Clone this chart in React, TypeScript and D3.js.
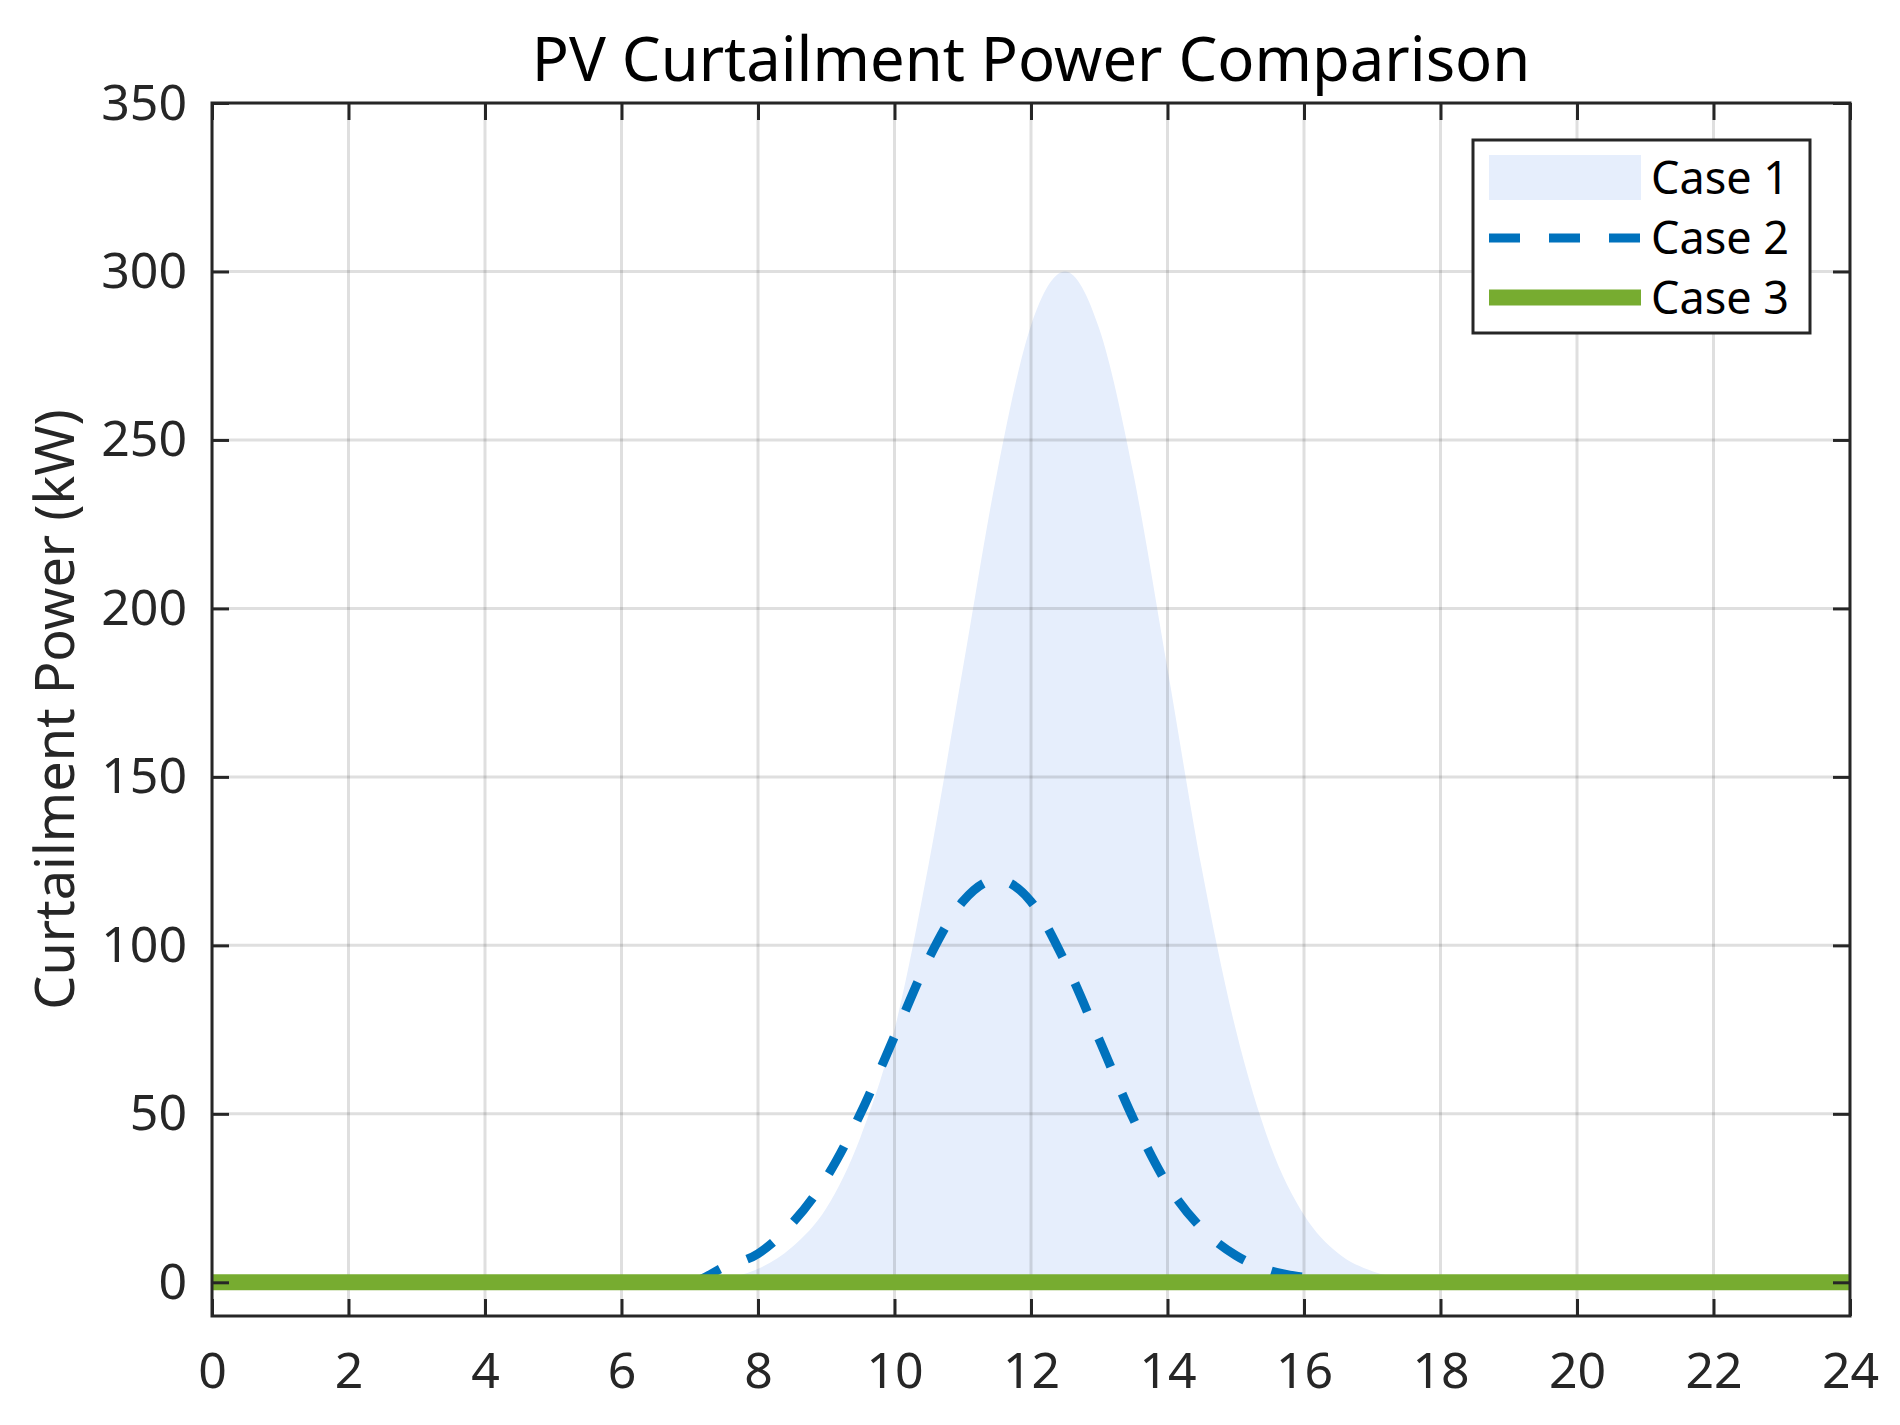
import React, { useRef, useEffect } from 'react';
import * as d3 from 'd3';

// half-hour samples over one day
const hours = [
  0, 0.5, 1, 1.5, 2, 2.5, 3, 3.5, 4, 4.5, 5, 5.5, 6, 6.5, 7, 7.5, 8, 8.5, 9, 9.5, 10, 10.5, 11, 11.5,
  12, 12.5, 13, 13.5, 14, 14.5, 15, 15.5, 16, 16.5, 17, 17.5, 18, 18.5, 19, 19.5, 20, 20.5, 21, 21.5,
  22, 22.5, 23, 23.5, 24,
];

// Case 1: curtailment without control (kW)
const case1 = [
  0, 0, 0, 0, 0, 0, 0, 0, 0, 0, 0, 0, 0, 0.1, 0.4, 1.2, 4, 10.5, 22, 43, 75, 124, 182, 240,
  284, 300, 283, 240, 182, 123, 75, 41, 20, 8.6, 3.3, 1.2, 0.4, 0.1, 0, 0, 0, 0, 0, 0,
  0, 0, 0, 0, 0,
];

// Case 2 (kW)
const case2 = [
  0, 0, 0, 0, 0, 0, 0, 0, 0, 0, 0, 0, 0, 0, 0, 4.5, 8.5, 17.5, 31, 50, 73, 96, 113, 119.5,
  113, 95, 72, 48.5, 29, 16, 8, 3.5, 1.5, 0.3, 0, 0, 0, 0, 0, 0, 0, 0, 0, 0,
  0, 0, 0, 0, 0,
];

// Case 3 (kW)
const case3 = hours.map(() => 0);

const xTicks = [0, 2, 4, 6, 8, 10, 12, 14, 16, 18, 20, 22, 24];
const yTicks = [0, 50, 100, 150, 200, 250, 300, 350];
const legendLabels = ['Case 1', 'Case 2', 'Case 3'];

const FONT = '"Noto Sans", "Open Sans", sans-serif';
const AXIS_COLOR = '#262626';
const FILL_COLOR = '#e6eefc';
const BLUE = '#0072bd';
const GREEN = '#77ac30';

const App: React.FC = () => {
  const svgRef = useRef<SVGSVGElement | null>(null);

  useEffect(() => {
    if (!svgRef.current) return;
    const W = 1900;
    const H = 1425;
    const margin = { top: 103, right: 50, bottom: 109, left: 212 };
    const width = W - margin.left - margin.right;
    const height = H - margin.top - margin.bottom;

    const root = d3.select(svgRef.current);
    root.selectAll('*').remove();
    root.attr('width', W).attr('height', H);

    root.append('rect').attr('width', W).attr('height', H).attr('fill', '#fff');

    const svg = root.append('g').attr('transform', `translate(${margin.left},${margin.top})`);

    const x = d3.scaleLinear().domain([0, 24]).range([0, width]);
    const y = d3.scaleLinear().domain([-10, 350]).range([height, 0]);

    root
      .append('defs')
      .append('clipPath')
      .attr('id', 'plot-clip')
      .append('rect')
      .attr('width', width)
      .attr('height', height);

    const plot = svg.append('g').attr('clip-path', 'url(#plot-clip)');

    // Case 1 area
    const area = d3
      .area<number>()
      .x((_, i) => x(hours[i]))
      .y0(y(0))
      .y1(d => y(d))
      .curve(d3.curveMonotoneX);
    plot.append('path').datum(case1).attr('d', area).attr('fill', FILL_COLOR);

    // grid on top of the patch
    const grid = plot.append('g').attr('stroke', AXIS_COLOR).attr('stroke-opacity', 0.15).attr('stroke-width', 3);
    grid
      .selectAll('line.vx')
      .data(xTicks)
      .enter()
      .append('line')
      .attr('x1', d => x(d))
      .attr('x2', d => x(d))
      .attr('y1', 0)
      .attr('y2', height);
    grid
      .selectAll('line.hy')
      .data(yTicks)
      .enter()
      .append('line')
      .attr('x1', 0)
      .attr('x2', width)
      .attr('y1', d => y(d))
      .attr('y2', d => y(d));

    const line = d3
      .line<number>()
      .x((_, i) => x(hours[i]))
      .y(d => y(d))
      .curve(d3.curveMonotoneX);

    // Case 2
    plot
      .append('path')
      .datum(case2)
      .attr('d', line)
      .attr('fill', 'none')
      .attr('stroke', BLUE)
      .attr('stroke-width', 9)
      .attr('stroke-dasharray', '31 29');

    // Case 3
    plot
      .append('path')
      .datum(case3)
      .attr('d', line)
      .attr('fill', 'none')
      .attr('stroke', GREEN)
      .attr('stroke-width', 16);

    // axes (ticks inside, box on)
    const styleAxis = (g: d3.Selection<SVGGElement, unknown, null, undefined>) => {
      g.select('.domain').remove();
      g.selectAll('.tick line').attr('stroke', AXIS_COLOR).attr('stroke-width', 3);
      g.selectAll('.tick text')
        .attr('fill', AXIS_COLOR)
        .attr('font-family', FONT)
        .attr('font-size', 50);
    };

    svg
      .append('g')
      .attr('transform', `translate(0,${height})`)
      .call(d3.axisBottom(x).tickValues(xTicks).tickSize(-17).tickPadding(36).tickFormat(d3.format('d')))
      .call(styleAxis);
    svg
      .append('g')
      .call(d3.axisTop(x).tickValues(xTicks).tickSize(-17).tickFormat(() => ''))
      .call(styleAxis);
    svg
      .append('g')
      .call(d3.axisLeft(y).tickValues(yTicks).tickSize(-17).tickPadding(25).tickFormat(d3.format('d')))
      .call(styleAxis);
    svg
      .append('g')
      .attr('transform', `translate(${width},0)`)
      .call(d3.axisRight(y).tickValues(yTicks).tickSize(-17).tickFormat(() => ''))
      .call(styleAxis);

    svg
      .append('rect')
      .attr('width', width)
      .attr('height', height)
      .attr('fill', 'none')
      .attr('stroke', AXIS_COLOR)
      .attr('stroke-width', 3);

    // title and y label
    root
      .append('text')
      .attr('x', margin.left + width / 2)
      .attr('y', 81)
      .attr('text-anchor', 'middle')
      .attr('font-family', FONT)
      .attr('font-size', 61.5)
      .attr('fill', '#000')
      .text('PV Curtailment Power Comparison');

    root
      .append('text')
      .attr('transform', `translate(74,${margin.top + height / 2}) rotate(-90)`)
      .attr('text-anchor', 'middle')
      .attr('font-family', FONT)
      .attr('font-size', 54)
      .attr('fill', AXIS_COLOR)
      .text('Curtailment Power (kW)');

    // legend
    const legend = root.append('g').attr('transform', 'translate(1473,140)');
    legend
      .append('rect')
      .attr('width', 337)
      .attr('height', 193)
      .attr('fill', '#fff')
      .attr('stroke', AXIS_COLOR)
      .attr('stroke-width', 3);

    const rowY = [37.5, 98, 157.5];
    legend
      .append('rect')
      .attr('x', 16)
      .attr('y', rowY[0] - 22.5)
      .attr('width', 152)
      .attr('height', 45)
      .attr('fill', FILL_COLOR);
    legend
      .append('line')
      .attr('x1', 16)
      .attr('x2', 168)
      .attr('y1', rowY[1])
      .attr('y2', rowY[1])
      .attr('stroke', BLUE)
      .attr('stroke-width', 9)
      .attr('stroke-dasharray', '31 29');
    legend
      .append('line')
      .attr('x1', 16)
      .attr('x2', 168)
      .attr('y1', rowY[2])
      .attr('y2', rowY[2])
      .attr('stroke', GREEN)
      .attr('stroke-width', 16);

    legend
      .selectAll('text.lbl')
      .data(legendLabels)
      .enter()
      .append('text')
      .attr('x', 178)
      .attr('y', (_, i) => rowY[i] + 16)
      .attr('font-family', FONT)
      .attr('font-size', 45)
      .attr('fill', '#000')
      .text(d => d);
  }, []);

  return <svg ref={svgRef} style={{ position: 'absolute', left: 0, top: 0 }}></svg>;
};

export default App;
